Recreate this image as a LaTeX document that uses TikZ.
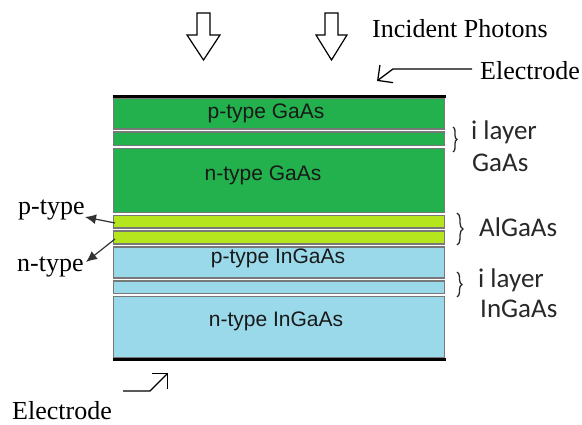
\documentclass[tikz,border=0pt]{standalone}
\usepackage{fontspec}
\setmainfont{Liberation Serif}
\newfontfamily\arialF{Liberation Sans}
\newfontfamily\calF{Carlito}
\usetikzlibrary{arrows.meta,decorations.pathreplacing}
\definecolor{gaas}{RGB}{34,177,76}
\definecolor{algaas}{RGB}{181,230,29}
\definecolor{ingaas}{RGB}{153,217,234}
\definecolor{bord}{RGB}{120,120,120}
\definecolor{lbl}{RGB}{40,40,40}
\begin{document}
\begin{tikzpicture}[x=1pt,y=-1pt,
 layer/.style={draw=bord,line width=1.4pt},
 layertext/.style={font=\arialF\fontsize{21}{21}\selectfont,text=black!90,inner sep=0pt,anchor=base},
 sertext/.style={font=\fontsize{26}{26}\selectfont,inner sep=0pt,anchor=base west,text=black},
 caltext/.style={font=\calF\fontsize{27}{27}\selectfont,inner sep=0pt,anchor=base west,text=lbl},
 curly/.style={decorate,decoration={brace,amplitude=#1},line width=1.3pt,lbl},
 photon/.style={draw=black,line width=1.2pt,fill=white,line join=miter},
 electrode/.style={line width=3pt,black},
 barb/.style={line width=1.3pt,-{Straight Barb[length=11pt,width=22pt,line width=1.3pt]}},
 typearrow/.style={line width=1.2pt,black!80,-{Latex[length=11pt,width=10pt]}}
]
\useasboundingbox (0,0) rectangle (582,425);

% photon arrows
\foreach \cx/\hw in {203.5/16.5,331.5/15.5}{
  \draw[photon] ({\cx-6.5},13) -- ({\cx+6.5},13) -- ({\cx+6.5},35) -- ({\cx+\hw},35)
    -- (\cx,60) -- ({\cx-\hw},35) -- ({\cx-6.5},35) -- cycle;
}

% layers
\draw[layer,fill=gaas]   (113.5,98.5)  rectangle (444.5,129);
\draw[layer,fill=gaas]   (113.5,132)   rectangle (444.5,145.5);
\draw[layer,fill=gaas]   (113.5,148.5) rectangle (444.5,212.5);
\draw[layer,fill=algaas] (113.5,215.5) rectangle (444.5,228);
\draw[layer,fill=algaas] (113.5,231)   rectangle (444.5,244);
\draw[layer,fill=ingaas] (113.5,247)   rectangle (444.5,278);
\draw[layer,fill=ingaas] (113.5,281)   rectangle (444.5,293.5);
\draw[layer,fill=ingaas] (113.5,296.5) rectangle (444.5,358);

% electrodes
\draw[electrode] (112.5,96.5) -- (445.5,96.5);
\draw[electrode] (112.5,360) -- (445.5,360);

% layer texts
\node[layertext] (pgaas) at (266,119) {p-type GaAs};
\node[layertext] (ngaas) at (263,180.5) {n-type GaAs};
\node[layertext] (pingaas) at (278,264) {p-type InGaAs};
\node[layertext] (ningaas) at (276,326.5) {n-type InGaAs};

% serif labels
\node[sertext] (photons) at (372,38) {Incident Photons};
\node[sertext] (etlabel) at (480,80) {Electrode};
\node[sertext] (eblabel) at (12,420) {Electrode};
\node[sertext] (plabel) at (18,215) {p-type};
\node[sertext] (nlabel) at (17,272) {n-type};

% right labels with braces
\draw[curly=4pt] (453,127) -- (453,152);
\node[caltext] (il1) at (471,140) {i layer};
\node[caltext] (il1b) at (472,172) {GaAs};
\draw[curly=6pt] (457,213) -- (457,245);
\node[caltext] (alg) at (479,237) {AlGaAs};
\draw[curly=5pt] (457,272) -- (457,297);
\node[caltext] (il2) at (478,288) {i layer};
\node[caltext] (il2b) at (480,318) {InGaAs};

% electrode arrows
\coordinate (etbend) at (393,69);
\coordinate (ettip) at (377,81);
\draw[barb] ([xshift=-8pt]etlabel.west |- etbend) -- (etbend) -- (ettip);
\coordinate (ebstart) at (123,391);
\coordinate (ebbend) at (150,391);
\coordinate (ebtip) at (168,373);
\draw[barb] (ebstart) -- (ebbend) -- (ebtip);

% p/n arrows
\coordinate (pstart) at (115,223);
\coordinate (ptip) at (85,217);
\coordinate (nstart) at (115,239);
\coordinate (ntip) at (86,262);
\draw[typearrow] (pstart) -- (ptip);
\draw[typearrow] (nstart) -- (ntip);
\end{tikzpicture}
\end{document}
